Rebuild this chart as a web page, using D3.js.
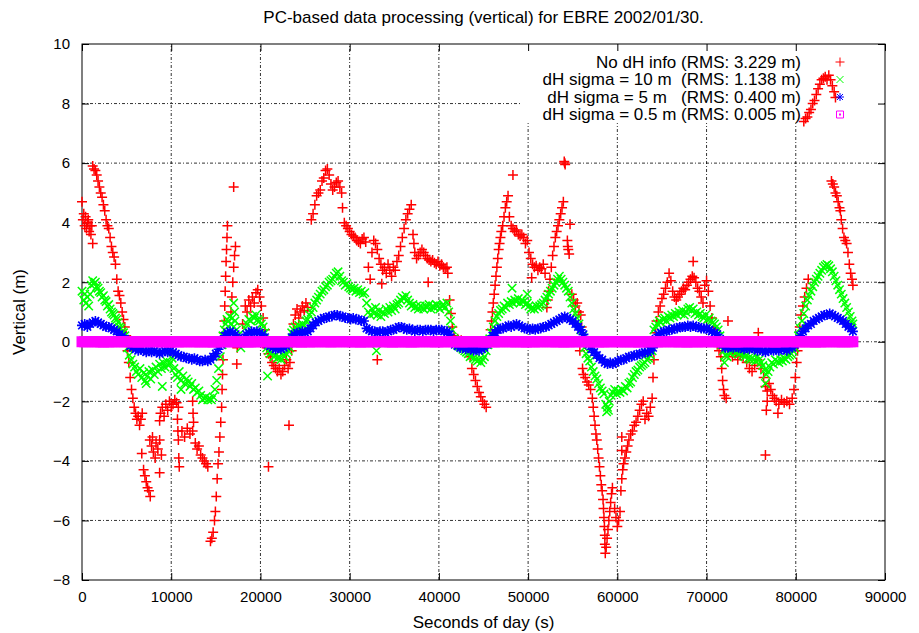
<!DOCTYPE html>
<html>
<head>
<meta charset="utf-8">
<script src="https://cdn.jsdelivr.net/npm/d3@7"></script>
<style>
  body { margin: 0; background: #fff; }
  text { font-family: "Liberation Sans", Arial, Helvetica, sans-serif; fill: #000; }
</style>
</head>
<body>
<svg id="chart" width="919" height="633"></svg>
<script>
// ---------- labels ----------
const title = "PC-based data processing (vertical) for EBRE 2002/01/30.";
const xLabel = "Seconds of day (s)";
const yLabel = "Vertical (m)";
const xTicks = [0, 10000, 20000, 30000, 40000, 50000, 60000, 70000, 80000, 90000];
const yTicks = [-8, -6, -4, -2, 0, 2, 4, 6, 8, 10];
const legendLabels = [
  "No dH info (RMS: 3.229 m)",
  "dH sigma = 10 m  (RMS: 1.138 m)",
  "dH sigma = 5 m   (RMS: 0.400 m)",
  "dH sigma = 0.5 m (RMS: 0.005 m)"
];

// ---------- data: [seconds of day, vertical error m] ----------
const noDhInfo = [
  [0,4.7],[100,4.1],[200,4.3],[300,3.9],[400,4.2],[500,3.8],[600,4.0],[700,4.1],[800,3.7],[900,3.9],[1000,3.6],[1100,3.9],[1200,3.3],
  [1200,5.9],[1350,5.8],[1500,5.75],[1650,5.6],[1800,5.4],[1950,5.2],[2100,5.0],[2250,4.85],[2400,4.6],[2550,4.4],[2700,4.1],[2850,3.9],[3000,3.8],[3150,3.5],[3300,3.2],[3450,3.0],[3600,2.85],[3750,2.6],[3900,2.1],[4050,1.7],[4200,1.55],[4350,1.3],[4500,1.0],[4650,0.75],[4800,0.5],[4950,0.2],
  [5100,-0.3],[5250,-0.7],[5400,-1.2],[5550,-1.6],[5700,-1.9],[5850,-2.2],[6000,-2.4],[6150,-2.6],[6300,-2.5],[6450,-2.8],[6600,-2.6],[6750,-2.4],
  [6700,-3.75],[6900,-4.3],[7050,-4.5],[7200,-4.7],[7350,-4.9],[7500,-5.0],[7650,-5.2],
  [7600,-3.3],[7800,-3.5],[7900,-3.2],[8000,-3.7],[8200,-3.9],[8300,-3.4],[8500,-3.6],[8700,-3.3],[8900,-3.8],[8700,-4.4],
  [8800,-2.4],[9000,-2.2],[9200,-2.5],[9400,-2.1],[9600,-2.3],[9800,-2.0],[10000,-2.2],[10200,-2.1],[10400,-1.95],[10600,-2.05],[10800,-2.2],[8700,-2.65],
  [10700,-2.6],[10750,-3.0],[10800,-3.3],[10850,-3.9],[10900,-4.2],[11200,-3.0],[11500,-3.2],[11800,-2.9],[12100,-3.1],[12400,-3.0],[12400,-2.0],[12450,-2.4],[12500,-2.7],
  [12700,-3.4],[12900,-3.6],[13100,-3.5],[13300,-3.8],[13500,-3.9],[13700,-4.0],[13900,-4.1],[14100,-4.2],
  [14400,-6.7],[14550,-6.6],[14700,-6.4],[14850,-6.0],[14950,-5.7],[15050,-5.2],[15150,-4.6],[15250,-4.1],[15350,-3.7],[15450,-3.2],[15550,-2.7],[15650,-2.2],[15700,-1.6],[15750,-1.1],[15800,-0.6],
  [15900,0.3],[15950,0.7],[16000,1.2],[16050,1.7],[16100,2.2],[16150,2.7],[16200,3.1],[16250,3.5],[16300,3.9],
  [16700,1.0],[16800,1.5],[16900,2.0],[17000,2.5],[17100,2.9],[17200,3.2],[17000,5.2],[17400,-0.2],[17350,-0.75],
  [18000,0.6],[18300,1.2],[18500,1.0],[18700,1.4],[18900,1.2],[19100,1.5],[19300,1.3],[19500,1.65],[19700,1.75],[19900,1.5],[20100,1.2],[20300,0.8],[20500,0.4],
  [20700,-0.2],[20900,-0.4],[21100,-0.5],[21300,-0.7],[21500,-0.8],[21700,-0.9],[21900,-1.0],[22100,-0.9],[22300,-1.1],[22500,-1.0],[22700,-0.8],[22900,-0.6],[23100,-0.9],[23300,-0.7],[23500,-0.3],[20900,-4.2],[23200,-2.8],
  [23700,0.6],[23900,0.9],[24100,1.1],[24300,0.8],[24500,1.0],[24700,1.2],[24900,1.05],[25100,1.3],[25300,1.15],
  [25700,4.1],[25900,4.3],[26100,4.6],[26300,4.9],[26500,5.0],[26700,5.1],[26900,5.4],[27100,5.5],[27300,5.75],[27500,5.8],[27700,5.6],[27900,5.3],[28100,5.1],[28300,5.2],[28500,5.35],[28700,5.4],[28900,5.2],[29100,5.0],[29200,4.5],[29400,4.0],[29600,3.9],[29800,3.8],[30000,3.7],[30200,3.6],[30400,3.55],[30600,3.5],[30800,3.4],[31000,3.35],[31200,3.3],[31400,3.45],[31600,3.5],[31800,3.35],
  [32100,2.5],[32300,2.1],[32500,3.0],[32700,3.4],[32900,3.3],[33100,3.1],[33300,2.8],[33500,2.6],[33700,2.4],[33900,2.5],[34100,2.3],[34300,2.6],[34500,2.4],[34700,2.2],[34900,2.5],[35100,2.4],[35300,2.7],[33100,-0.6],[33600,1.95],
  [35500,2.9],[35700,3.2],[35900,3.5],[36100,3.8],[36300,4.1],[36500,4.3],[36700,4.45],[36900,4.6],
  [37100,3.6],[37200,3.3],[37300,3.0],[37500,2.8],[37700,2.9],[37900,3.0],[38100,3.1],[38300,3.0],[38500,2.9],[38700,2.8],[38900,2.75],[39100,2.7],[39300,2.75],[39500,2.65],[39700,2.6],[39900,2.7],[40100,2.55],[40300,2.6],[40500,2.5],[40700,2.45],[40900,2.5],[41000,2.3],[38800,2.0],
  [41200,1.4],[41350,0.95],[41500,0.5],[41700,0.2],[41900,0.0],[42100,0.1],[42300,-0.1],[42500,0.05],[42700,-0.15],[42900,-0.1],[43100,-0.2],[43300,-0.3],[43500,-0.5],[43700,-0.9],[43900,-1.1],[44100,-1.3],[44300,-1.5],[44500,-1.7],[44700,-1.85],[44900,-2.0],[45100,-2.1],[45300,-2.2],
  [45700,0.0],[45800,0.4],[45900,0.7],[46000,1.0],[46100,1.3],[46200,1.6],[46300,1.9],[46400,2.2],[46500,2.5],[46600,2.8],[46700,3.1],[46800,3.3],[46900,3.5],[47000,3.7],[47150,3.9],[47300,4.2],[47450,4.5],[47600,4.7],[47750,4.9],[48300,5.6],
  [47900,4.2],[48100,3.9],[48300,3.8],[48500,3.7],[48700,3.75],[48900,3.6],[49100,3.55],[49300,3.6],[49500,3.5],[49700,3.3],[49900,3.4],[50100,3.0],[50300,2.8],[50500,2.6],[50700,2.5],[50900,2.55],[51100,2.4],[51300,2.5],[51500,2.45],[51700,2.6],[51900,2.3],[50400,2.15],
  [52100,1.15],[52200,1.4],
  [52300,1.7],[52450,2.1],[52600,2.5],[52750,2.9],[52900,3.2],[53050,3.5],[53200,3.7],[53350,3.9],[53500,4.1],[53650,4.3],[53800,4.5],[53950,4.7],[54050,6.05],[54100,6.0],[54150,5.95],
  [54400,3.4],[54450,3.2],[54500,3.1],[54600,2.95],[54700,3.95],
  [54900,1.6],[55100,1.4],[55300,1.2],[55500,1.3],[55700,1.0],[55900,0.9],[56000,0.5],
  [55800,-0.3],[56100,-0.9],[56200,-1.1],[56400,-1.2],[56600,-1.35],[56800,-1.45],[57000,-1.6],[57200,-1.9],[57300,-2.2],[57400,-2.5],[57500,-2.8],[57600,-3.1],[57700,-3.3],[57800,-3.6],[57900,-3.9],[58000,-4.2],[58100,-4.5],[58200,-4.8],[58300,-5.0],[58400,-5.3],[58450,-5.6],[58500,-5.9],[58550,-6.2],[58600,-6.5],[58600,-6.8],[58650,-7.1],
  [58750,-6.9],[58850,-6.6],[58950,-6.3],[59050,-6.0],[59150,-5.7],[59250,-5.4],[59350,-5.1],[59450,-4.9],
  [59700,-5.6],[59850,-5.9],[60000,-6.2],[60150,-6.0],[60300,-5.7],
  [60400,-5.0],[60500,-4.6],[60600,-4.3],[60700,-4.1],[60850,-3.9],[61000,-3.7],[61150,-3.5],[61300,-3.3],[61500,-3.1],[61700,-3.0],[61900,-2.8],[62100,-2.7],[62300,-2.5],[62500,-2.3],[62700,-2.1],[62900,-2.0],[63100,-2.6],[63300,-2.4],[63500,-2.5],[63700,-2.2],[63900,-1.9],[60500,-3.2],[60500,-3.65],
  [64000,-1.2],[64100,-0.6],[64200,0.0],[64300,0.3],[64400,0.7],[64600,1.0],[64800,1.2],[65000,1.45],[65200,1.6],[65400,1.8],[65600,2.0],[65800,2.3],[66000,2.05],[66200,1.7],[66400,1.5],[66600,1.4],[66800,1.5],[67000,1.6],[67200,1.7],[67400,1.8],[67600,1.75],[67800,1.9],[68000,2.0],[68200,2.1],[68400,2.2],[68500,2.7],[68600,2.15],[68800,2.0],[69000,1.8],[69200,1.7],[69400,1.5],[69600,1.3],[69800,1.9],[70000,2.05],[70200,1.7],[70400,1.2],[70600,0.8],[70800,0.4],[71000,0.1],[71200,-0.1],[71400,-0.3],[71600,-0.5],[71700,-0.9],[71800,-1.3],[71900,-1.6],[72000,-1.8],[72200,-1.9],[72400,0.7],
  [72600,-0.3],[72900,-0.5],[73200,-0.4],[73500,-0.6],[73800,-0.45],[74100,-0.5],[74500,-0.7],[74800,-0.9],[75100,-1.0],[75400,-0.8],[75700,-0.6],[75800,0.3],
  [76100,-0.9],[76400,-1.2],[76600,-1.5],[76800,-1.65],[77000,-1.4],[77200,-1.6],[77400,-1.8],[77600,-1.9],[76800,-2.0],[76700,-2.3],[76600,-3.8],[78000,-2.4],
  [77800,-2.0],[78100,-2.1],[78400,-1.95],[78700,-2.05],[79000,-2.0],[79300,-2.1],[79600,-1.9],
  [79800,-1.6],[79950,-1.2],[80100,-0.7],[80200,-0.3],[80300,0.1],[80450,0.5],[80600,0.9],[80800,1.2],[81000,1.5],[81200,1.8],[81400,2.1],
  [80900,7.4],[81100,7.5],[81300,7.55],[81500,7.7],[81700,7.8],[81900,8.0],[82100,8.1],[82300,8.3],[82500,8.5],[82700,8.65],[82900,8.8],[83100,8.85],[83300,8.9],[83500,8.8],[83700,8.95],[83900,8.8],[84100,8.6],[84300,8.4],[84450,8.2],
  [84000,5.4],[84150,5.3],[84300,5.2],[84450,5.0],[84600,4.9],[84750,4.7],[84900,4.5],[85000,4.4],[85100,4.1],[85250,3.8],[85400,3.5],[85550,3.4],[85700,3.3],[85850,3.0],[86000,2.6],[86150,2.3],[86300,2.1],[86400,1.9]
];

const sigma10 = [
  [0,1.7],[200,1.4],[300,1.6],[450,1.3],[600,1.5],[750,1.2],[900,1.6],[1050,1.9],[1200,2.05],[1350,1.95],[1500,2.0],[1650,1.85],[1800,1.8],[1950,1.7],[2100,1.65],[2250,1.5],[2400,1.55],[2550,1.4],[2700,1.35],[2850,1.2],[3000,1.25],[3150,1.1],[3300,1.0],[3450,0.95],[3600,0.9],[3750,0.8],[3900,0.75],[4050,0.65],[4200,0.5],[4350,0.45],[4500,0.35],[4650,0.3],[4800,0.2],[4950,0.05],
  [5100,-0.2],[5300,-0.45],[5500,-0.6],[5700,-0.75],[5900,-0.85],[6100,-1.0],[6300,-1.1],[6500,-0.9],[6700,-1.2],[6900,-1.05],[7100,-1.3],[7300,-1.15],[7500,-1.0],[7700,-1.25],[7900,-0.95],[8100,-1.1],[8300,-0.85],[8500,-1.0],[8700,-0.75],[8900,-0.9],[9100,-0.7],[9300,-0.85],[9500,-0.65],[9700,-0.8],[9900,-0.7],[10100,-0.55],[10300,-0.9],[10500,-1.1],[10700,-1.2],[10900,-1.0],[11100,-1.3],[11300,-1.15],[11500,-1.4],[11700,-1.25],[11900,-1.35],[12100,-1.5],[12300,-1.4],[12500,-1.6],[12700,-1.55],[12900,-1.7],[13100,-1.65],[13300,-1.8],[13500,-1.95],[13700,-1.9],[13900,-1.85],[14100,-1.95],[14300,-1.9],[14500,-1.95],[14700,-1.85],[14900,-1.6],[15100,-1.3],[15300,-0.9],[15500,-0.5],[15700,-0.1],[7200,-1.4],[9000,-1.5],[11100,-1.6],
  [15800,0.2],[15950,0.4],[16100,0.6],[16250,0.75],[16400,0.7],[16550,0.85],[16700,0.6],[16850,0.8],[17000,0.5],[17150,0.7],[17300,0.4],[17450,0.2],[17000,1.3],[17100,1.0],
  [17600,0.0],[17800,-0.2],[18000,0.1],
  [18300,0.45],[18500,0.6],[18700,0.75],[18900,0.7],[19100,0.85],[19300,0.8],[19500,0.9],[19700,0.75],[19900,0.7],[20100,0.6],[20300,0.5],[20500,0.3],
  [20700,-0.2],[20900,-0.3],[21100,-0.4],[21300,-0.35],[21500,-0.5],[21700,-0.45],[21900,-0.55],[22100,-0.5],[22300,-0.6],[22500,-0.45],[22700,-0.5],[22900,-0.4],[23100,-0.3],[23300,-0.2],[20800,-1.15],
  [23500,0.3],[23700,0.4],[23900,0.5],[24100,0.45],[24300,0.55],[24500,0.5],[24700,0.6],[24900,0.55],[25100,0.7],[25300,0.75],[25500,0.9],
  [25700,1.0],[25900,1.15],[26100,1.3],[26300,1.4],[26500,1.5],[26700,1.6],[26900,1.7],[27100,1.75],[27300,1.85],[27500,1.9],[27700,2.0],[27900,2.05],[28100,2.1],[28300,2.2],[28500,2.3],[28700,2.35],[28900,2.2],[29100,2.05],[29300,2.0],[29500,1.9],[29700,1.95],[29900,1.85],[30100,1.8],[30300,1.75],[30500,1.8],[30700,1.7],[30900,1.75],[31100,1.65],[31300,1.7],[31500,1.6],[31700,1.65],
  [31900,1.3],[32100,1.0],[32300,0.9],[32500,1.1],[32700,0.95],[32900,1.15],[33100,0.9],[33300,1.05],[33500,0.85],[33700,1.0],[33900,0.95],[34100,1.1],[34300,1.0],[34500,1.15],[34700,1.05],[34900,1.2],[35100,1.1],[35300,1.25],[35500,1.3],[35700,1.4],[35900,1.5],[36100,1.45],[36300,1.55],[36500,1.4],[36700,1.3],[36900,1.2],[37100,1.25],[37300,1.15],[37500,1.2],[37700,1.1],[37900,1.2],[38100,1.15],[38300,1.1],[38500,1.2],[38700,1.15],[38900,1.25],[39100,1.1],[39300,1.2],[39500,1.15],[39700,1.25],[39900,1.2],[40100,1.1],[40300,1.2],[40500,1.25],[40700,1.15],[40900,1.3],[41100,1.0],[41300,0.7],[41500,0.4],[33000,-0.3],
  [41700,0.1],[41900,-0.05],[42100,-0.1],[42300,-0.15],[42500,-0.2],[42700,-0.25],[42900,-0.3],[43100,-0.35],[43300,-0.4],[43500,-0.5],[43700,-0.45],[43900,-0.55],[44100,-0.6],[44300,-0.65],[44500,-0.6],[44700,-0.7],[44900,-0.6],[45100,-0.5],[45300,-0.3],[45500,-0.1],
  [45700,0.1],[45900,0.3],[46100,0.5],[46300,0.7],[46500,0.85],[46700,0.95],[46900,1.05],[47100,1.1],[47300,1.2],[47500,1.15],[47700,1.3],[47900,1.25],[48100,1.35],[48300,1.3],[48500,1.4],[48700,1.35],[48900,1.45],[49100,1.3],[49300,1.4],[49500,1.35],[49700,1.25],[49900,1.3],[50100,1.2],[50300,1.1],[50500,1.15],[50700,1.1],[50900,1.2],[51100,1.15],[51300,1.2],[51500,1.25],[51700,1.3],[51900,1.4],[52100,1.5],[52300,1.6],[52500,1.7],[52700,1.8],[52900,1.9],[53100,2.0],[53300,2.1],[53500,2.2],[53700,2.1],[53900,2.0],[54100,1.9],[54300,1.8],[54500,1.7],[54700,1.5],[54900,1.3],[55100,1.1],[55300,0.95],[55500,0.8],[55700,0.6],[55900,0.4],[56100,0.2],[56200,0.05],[48200,1.8],[49900,1.6],
  [56300,-0.2],[56500,-0.4],[56700,-0.55],[56900,-0.65],[57100,-0.85],[57300,-1.0],[57500,-1.15],[57700,-1.25],[57900,-1.4],[58100,-1.55],[58300,-1.65],[58500,-1.75],[58700,-2.1],[58900,-2.2],[59100,-2.0],[59300,-1.8],[59500,-1.7],[59700,-1.6],[59900,-1.75],[60100,-1.65],[60300,-1.7],[60500,-1.6],[60700,-1.65],[60900,-1.5],[61100,-1.55],[61300,-1.4],[61500,-1.35],[61700,-1.2],[61900,-1.1],[62100,-1.0],[62300,-0.95],[62500,-0.85],[62700,-0.8],[62900,-0.75],[63100,-0.7],[63300,-0.6],[63500,-0.55],[63700,-0.45],[63900,-0.3],[58800,-2.35],[59000,-2.3],
  [64100,0.4],[64300,0.5],[64500,0.6],[64700,0.7],[64900,0.65],[65100,0.75],[65300,0.8],[65500,0.7],[65700,0.85],[65900,0.8],[66100,0.9],[66300,0.85],[66500,0.95],[66700,0.9],[66900,1.0],[67100,0.95],[67300,1.05],[67500,0.9],[67700,1.0],[67900,1.1],[68100,1.15],[68300,1.05],[68500,1.1],[68700,0.95],[68900,1.0],[69100,0.9],[69300,0.95],[69500,0.85],[69700,0.8],[69900,0.9],[70100,0.75],[70300,0.8],[70500,0.7],[70700,0.65],[70900,0.6],[71100,0.5],[71300,0.4],[71500,0.2],
  [71700,-0.1],[71900,-0.3],[72100,-0.45],[72300,-0.5],[72500,-0.35],[72700,-0.4],[72900,-0.3],[73100,-0.25],[73300,-0.35],[73500,-0.3],[73700,-0.4],[73900,-0.35],[74100,-0.45],[74300,-0.5],[74500,-0.45],[74700,-0.55],[74900,-0.6],[75100,-0.55],[75300,-0.6],[75500,-0.65],[75700,-0.5],[75900,-0.6],[76100,-0.7],[76300,-0.8],[76500,-0.95],[76700,-1.1],[76900,-1.0],[77100,-0.85],[77300,-0.7],[77500,-0.75],[77700,-0.6],[77900,-0.65],[78100,-0.7],[78300,-0.6],[78500,-0.65],[78700,-0.55],[78900,-0.6],[79100,-0.5],[79300,-0.45],[79500,-0.4],[79700,-0.3],[79900,-0.2],[80100,0.0],[76600,-1.4],[72000,-0.7],
  [80300,0.2],[80500,0.45],[80700,0.7],[80900,0.95],[81100,1.2],[81300,1.4],[81500,1.55],[81700,1.7],[81900,1.85],[82100,2.0],[82300,2.1],[82500,2.2],[82700,2.3],[82900,2.4],[83100,2.5],[83300,2.55],[83500,2.6],[83700,2.55],[83900,2.45],[84100,2.35],[84300,2.2],[84500,2.05],[84700,1.9],[84900,1.75],[85100,1.6],[85300,1.45],[85500,1.3],[85700,1.15],[85900,1.0],[86100,0.85],[86300,0.7],[86400,0.6]
];

const sigma5 = [
  [0,0.55],[300,0.6],[600,0.5],[900,0.6],[1200,0.65],[1500,0.7],[1800,0.65],[2100,0.6],[2400,0.55],[2700,0.5],[3000,0.5],[3300,0.45],[3600,0.4],[3900,0.35],[4200,0.25],[4500,0.2],[4800,0.1],[5100,0.0],[5400,-0.15],[5700,-0.2],[6000,-0.25],[6300,-0.3],[6600,-0.25],[6900,-0.3],[7200,-0.35],[7500,-0.3],[7800,-0.35],[8100,-0.3],[8400,-0.35],[8700,-0.4],[9000,-0.35],[9300,-0.3],[9600,-0.35],[9900,-0.3],[10200,-0.35],[10500,-0.4],[10800,-0.45],[11100,-0.5],[11400,-0.5],[11700,-0.55],[12000,-0.55],[12300,-0.6],[12600,-0.55],[12900,-0.6],[13200,-0.65],[13500,-0.65],[13800,-0.6],[14100,-0.65],[14400,-0.6],[14700,-0.5],[15000,-0.4],[15300,-0.25],[15600,-0.1],[15800,0.05],
  [16000,0.2],[16300,0.3],[16600,0.35],[16900,0.3],[17200,0.25],[17500,0.1],[17800,-0.05],[18100,0.1],[18400,0.25],[18700,0.3],[19000,0.35],[19300,0.3],[19600,0.35],[19900,0.3],[20200,0.25],[20500,0.15],[20800,-0.1],[21100,-0.15],[21400,-0.2],[21700,-0.25],[22000,-0.2],[22300,-0.25],[22600,-0.2],[22900,-0.15],[23200,-0.05],[23500,0.15],[23800,0.25],[24100,0.3],[24400,0.3],[24700,0.35],[25000,0.3],[25300,0.35],[25600,0.45],[25900,0.55],[26200,0.65],[26500,0.7],[26800,0.75],[27100,0.8],[27400,0.8],[27700,0.85],[28000,0.85],[28300,0.9],[28600,0.9],[28900,0.85],[29200,0.85],[29500,0.8],[29800,0.8],[30100,0.75],[30400,0.8],[30700,0.75],[31000,0.75],[31300,0.7],[31600,0.7],[31900,0.45],[32200,0.4],[32500,0.35],[32800,0.35],[33100,0.3],[33400,0.35],[33700,0.35],[34000,0.3],[34300,0.35],[34600,0.4],[34900,0.4],[35200,0.45],[35500,0.5],[35800,0.5],[36100,0.45],[36400,0.4],[36700,0.45],[37000,0.4],[37300,0.35],[37600,0.4],[37900,0.4],[38200,0.35],[38500,0.4],[38800,0.4],[39100,0.4],[39400,0.35],[39700,0.4],[40000,0.4],[40300,0.4],[40600,0.35],[40900,0.35],[41200,0.25],[41500,0.05],
  [41800,-0.1],[42100,-0.15],[42400,-0.2],[42700,-0.2],[43000,-0.25],[43300,-0.2],[43600,-0.25],[43900,-0.3],[44200,-0.25],[44500,-0.3],[44800,-0.25],[45100,-0.2],[45400,-0.1],[45700,0.05],[46000,0.2],[46300,0.3],[46600,0.4],[46900,0.45],[47200,0.45],[47500,0.5],[47800,0.55],[48100,0.5],[48400,0.55],[48700,0.6],[49000,0.55],[49300,0.5],[49600,0.45],[49900,0.45],[50200,0.4],[50500,0.45],[50800,0.4],[51100,0.45],[51400,0.45],[51700,0.5],[52000,0.5],[52300,0.55],[52600,0.6],[52900,0.65],[53200,0.7],[53500,0.75],[53800,0.8],[54100,0.85],[54400,0.8],[54700,0.75],[55000,0.7],[55300,0.6],[55600,0.5],[55900,0.4],[56200,0.25],[56500,0.05],[56800,-0.1],[57100,-0.25],[57400,-0.35],[57700,-0.45],[58000,-0.55],[58300,-0.6],[58600,-0.7],[58900,-0.75],[59200,-0.7],[59500,-0.75],[59800,-0.7],[60100,-0.65],[60400,-0.6],[60700,-0.6],[61000,-0.55],[61300,-0.5],[61600,-0.5],[61900,-0.45],[62200,-0.45],[62500,-0.4],[62800,-0.4],[63100,-0.35],[63400,-0.35],[63700,-0.3],[64000,-0.2],
  [64300,0.1],[64600,0.25],[64900,0.3],[65200,0.35],[65500,0.35],[65800,0.4],[66100,0.4],[66400,0.45],[66700,0.45],[67000,0.5],[67300,0.5],[67600,0.5],[67900,0.55],[68200,0.5],[68500,0.55],[68800,0.5],[69100,0.5],[69400,0.45],[69700,0.45],[70000,0.45],[70300,0.4],[70600,0.35],[70900,0.3],[71200,0.25],[71500,0.1],[71800,-0.1],[72100,-0.2],[72400,-0.2],[72700,-0.15],[73000,-0.2],[73300,-0.15],[73600,-0.2],[73900,-0.2],[74200,-0.25],[74500,-0.2],[74800,-0.25],[75100,-0.2],[75400,-0.25],[75700,-0.3],[76000,-0.25],[76300,-0.3],[76600,-0.35],[76900,-0.3],[77200,-0.25],[77500,-0.3],[77800,-0.25],[78100,-0.3],[78400,-0.25],[78700,-0.25],[79000,-0.3],[79300,-0.2],[79600,-0.2],[79900,-0.1],
  [80200,0.05],[80500,0.2],[80800,0.35],[81100,0.45],[81400,0.55],[81700,0.6],[82000,0.7],[82300,0.75],[82600,0.8],[82900,0.85],[83200,0.9],[83500,0.9],[83800,0.95],[84100,0.9],[84400,0.85],[84700,0.8],[85000,0.75],[85300,0.7],[85600,0.6],[85900,0.5],[86200,0.45],[86400,0.35]
];

// dH sigma = 0.5 m: one value every 300 s from 0 to 86400 s
const sigma05Step = 300;
const sigma05 = [
  0,0,0,0.01,0,0,0,0,-0.01,0,0,0,0,0,0.01,0,0,0,0,0,0,-0.01,0,0,
  0,0,0.01,0,0,0,0,0,0,-0.01,0,0,0,0,0,0,0.01,0,0,0,0,0,0,0,
  0,-0.01,0,0,0,0,0.01,0,0,0,0,0,0,0,-0.01,0,0,0,0,0.01,0,0,0,0,
  0,0,0,0,0.01,0,0,0,0,0,-0.01,0,0,0,0,0,0,0.01,0,0,0,0,0,0,
  0,0.01,0,0,0,0,0,0,-0.01,0,0,0,0,0,0,0.01,0,0,0,0,-0.01,0,0,0,
  0,0,0,-0.01,0,0,0,0,0.01,0,0,0,0,0,0,0,0,0.01,0,0,0,0,0,0,
  0,0,0.01,0,0,0,0,-0.01,0,0,0,0,0,0,0.01,0,0,0,0,0,0,0,-0.01,0,
  0,0,0,0,0,0.01,0,0,0,0,0,0,-0.01,0,0,0,0,0,0.01,0,0,0,0,0,
  0,-0.01,0,0,0,0,0,0.01,0,0,0,0,0,0,0,0,-0.01,0,0,0,0,0.01,0,0,
  0,0,0,0.01,0,0,0,0,0,0,-0.01,0,0,0,0,0,0,0,0.01,0,0,0,0,0,
  0,0,0,0,-0.01,0,0,0,0,0.01,0,0,0,0,0,0,0,0,0,-0.01,0,0,0,0.01,
  0,0,0.01,0,0,0,0,0,0,0,-0.01,0,0,0,0,0,0.01,0,0,0,0,0,0,0,
  0
];

// ---------- layout ----------
const svg = d3.select("#chart");
const x = d3.scaleLinear().domain([0, 90000]).range([82, 885]);
const y = d3.scaleLinear().domain([-8, 10]).range([580, 44]);
const plotW = x.range()[1] - x.range()[0];
const plotH = y.range()[0] - y.range()[1];

// grid (gnuplot dash-dot)
const grid = svg.append("g").attr("class", "grid");
grid.selectAll("line.gx").data(xTicks.slice(1, -1)).join("line")
  .attr("class", "gx")
  .attr("x1", d => x(d)).attr("x2", d => x(d))
  .attr("y1", y(-8)).attr("y2", y(10));
grid.selectAll("line.gy").data(yTicks.slice(1, -1)).join("line")
  .attr("class", "gy")
  .attr("x1", x(0)).attr("x2", x(90000))
  .attr("y1", d => y(d)).attr("y2", d => y(d));
grid.selectAll("line")
  .attr("stroke", "#000").attr("stroke-width", 0.8)
  .attr("stroke-dasharray", "3,2,1,2");

// key area is kept clear of grid lines
svg.append("rect")
  .attr("x", 520).attr("y", y(10) + 1)
  .attr("width", x(90000) - 521).attr("height", 78)
  .attr("fill", "#fff");

// axes: inward ticks on all four sides
const axBottom = svg.append("g").attr("transform", `translate(0,${y(-8)})`)
  .call(d3.axisBottom(x).tickValues(xTicks).tickSize(-7).tickPadding(11).tickFormat(d3.format("d")));
const axTop = svg.append("g").attr("transform", `translate(0,${y(10)})`)
  .call(d3.axisTop(x).tickValues(xTicks).tickSize(-7).tickFormat(""));
const axLeft = svg.append("g").attr("transform", `translate(${x(0)},0)`)
  .call(d3.axisLeft(y).tickValues(yTicks).tickSize(-7).tickPadding(12).tickFormat(d3.format("d")));
const axRight = svg.append("g").attr("transform", `translate(${x(90000)},0)`)
  .call(d3.axisRight(y).tickValues(yTicks).tickSize(-7).tickFormat(""));
[axBottom, axTop, axLeft, axRight].forEach(g => {
  g.select(".domain").remove();
  g.selectAll("line").attr("stroke", "#000");
  g.selectAll("text").attr("font-size", 15).attr("font-family", null).attr("fill", "#000");
});
svg.append("rect")
  .attr("x", x(0)).attr("y", y(10)).attr("width", plotW).attr("height", plotH)
  .attr("fill", "none").attr("stroke", "#000").attr("stroke-width", 1);

// ---------- point markers ----------
const plus = "M-5,0H5M0,-5V5";
const cross = "M-4.2,-4.2L4.2,4.2M-4.2,4.2L4.2,-4.2";
const star = "M-5,0H5M0,-5V5M-3.8,-3.8L3.8,3.8M-3.8,3.8L3.8,-3.8";
const square = "M-4.5,-4.5H4.5V4.5H-4.5Z";

function drawSeries(data, shape, color, width, fill) {
  svg.append("g").selectAll("path").data(data).join("path")
    .attr("d", shape)
    .attr("transform", d => `translate(${x(d[0])},${y(d[1])})`)
    .attr("fill", fill || "none")
    .attr("stroke", color)
    .attr("stroke-width", width);
}

drawSeries(noDhInfo, plus, "#ff0000", 1.5);
drawSeries(sigma10, cross, "#00ff00", 1.5);
drawSeries(sigma5, star, "#0000ff", 1.6);
drawSeries(sigma05.map((v, i) => [i * sigma05Step, v]), square, "#ff00ff", 2, "#ff00ff");

// ---------- legend ----------
const keyRows = [62, 79.5, 97, 114.5];
const keyShapes = ["M-4.5,0H4.5M0,-4.5V4.5", "M-3.5,-3.5L3.5,3.5M-3.5,3.5L3.5,-3.5",
  "M-4,0H4M0,-4V4M-3,-3L3,3M-3,3L3,-3", "M-3.5,-3.5H3.5V3.5H-3.5Z"];
const keyColors = ["#ff0000", "#00ff00", "#0000ff", "#ff00ff"];
const key = svg.append("g");
key.selectAll("text").data(legendLabels).join("text")
  .attr("x", 801).attr("y", (d, i) => keyRows[i]).attr("dy", "0.35em")
  .attr("text-anchor", "end").attr("font-size", 17)
  .attr("xml:space", "preserve").style("white-space", "pre")
  .text(d => d);
key.selectAll("path").data(keyShapes).join("path")
  .attr("d", d => d)
  .attr("transform", (d, i) => `translate(840,${keyRows[i]})`)
  .attr("fill", "none").attr("stroke", (d, i) => keyColors[i]).attr("stroke-width", 1);
key.append("rect").attr("x", 839).attr("y", keyRows[3] - 1).attr("width", 2).attr("height", 2)
  .attr("fill", "#ff00ff");

// ---------- titles ----------
svg.append("text").attr("x", (x(0) + x(90000)) / 2).attr("y", 23)
  .attr("text-anchor", "middle").attr("font-size", 17).text(title);
svg.append("text").attr("x", (x(0) + x(90000)) / 2).attr("y", 628)
  .attr("text-anchor", "middle").attr("font-size", 17).text(xLabel);
svg.append("text")
  .attr("transform", `translate(25,${(y(-8) + y(10)) / 2}) rotate(-90)`)
  .attr("text-anchor", "middle").attr("font-size", 17).text(yLabel);
</script>
</body>
</html>
